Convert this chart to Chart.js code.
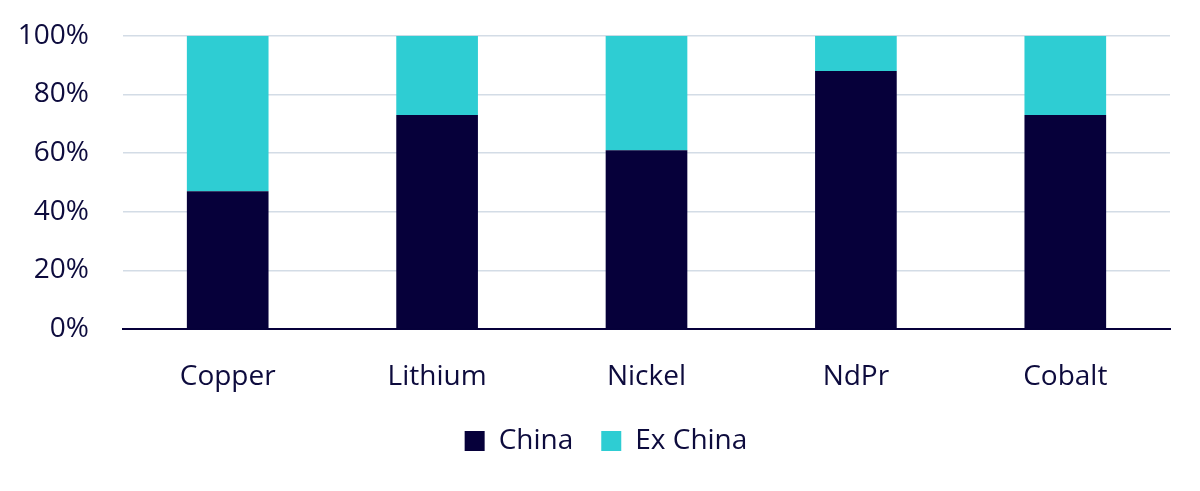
<!DOCTYPE html>
<html>
<head>
<meta charset="utf-8">
<script src="https://cdn.jsdelivr.net/npm/chart.js@4"></script>
<style>
  html, body { margin: 0; padding: 0; background: #fff; }
  #wrap { width: 1200px; height: 491px; }
</style>
</head>
<body>
<div id="wrap"><canvas id="shareChart"></canvas></div>
<script>
// Chart data
const categories = ["Copper", "Lithium", "Nickel", "NdPr", "Cobalt"];
const chinaShare = [47, 73, 61, 88, 73];
const exChinaShare = [53, 27, 39, 12, 27];
const yTicks = [0, 20, 40, 60, 80, 100];

const navy = "#06003a";
const teal = "#2ecdd3";
const textColor = "#0d0b3d";

Chart.defaults.font.family = "'Open Sans', 'Noto Sans', sans-serif";

// Legend in the original sits a little right of the canvas centre
const legendNudge = {
    id: "legendNudge",
    afterLayout(chart) {
        chart.legend.left += 21;
        chart.legend.right += 21;
    }
};

const shareChart = new Chart(document.getElementById("shareChart"), {
    type: "bar",
    data: {
        labels: categories,
        datasets: [
            {
                label: "China",
                data: chinaShare,
                backgroundColor: navy,
                barPercentage: 0.39,
                categoryPercentage: 1.0
            },
            {
                label: "Ex China",
                data: exChinaShare,
                backgroundColor: teal,
                barPercentage: 0.39,
                categoryPercentage: 1.0
            }
        ]
    },
    options: {
        responsive: true,
        maintainAspectRatio: false,
        animation: false,
        layout: { padding: { top: 0, right: 30, left: 0, bottom: 26 } },
        plugins: {
            legend: {
                position: "bottom",
                labels: {
                    color: textColor,
                    font: { size: 28 },
                    boxWidth: 20,
                    boxHeight: 20,
                    padding: 28
                }
            },
            tooltip: { enabled: false }
        },
        scales: {
            x: {
                stacked: true,
                grid: { display: false },
                border: { display: true, color: navy, width: 2 },
                ticks: { color: textColor, font: { size: 28 }, padding: 23 },
                // keep the gap between axis labels and legend tight
                afterFit: (axis) => { axis.height = 70; }
            },
            y: {
                stacked: true,
                min: 0,
                max: 100,
                afterBuildTicks: (axis) => {
                    axis.ticks = yTicks.map(v => ({ value: v }));
                },
                afterFit: (axis) => { axis.width = 123; },
                grid: {
                    color: "#d3dce6",
                    lineWidth: 1.5,
                    drawTicks: true,
                    tickLength: 15,
                    tickColor: "rgba(0,0,0,0)"
                },
                border: { display: false },
                ticks: {
                    color: textColor,
                    font: { size: 28 },
                    padding: 19,
                    callback: (value) => value + "%"
                }
            }
        }
    },
    plugins: [legendNudge]
});
</script>
</body>
</html>
